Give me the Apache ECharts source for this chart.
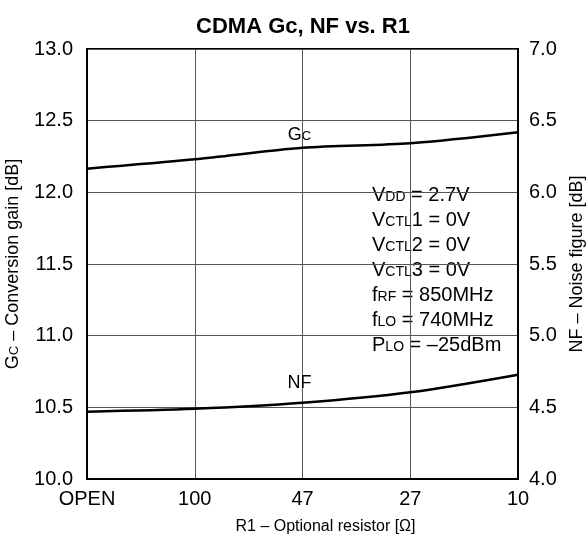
<!DOCTYPE html>
<html>
<head>
<meta charset="utf-8">
<script src="https://cdn.jsdelivr.net/npm/echarts@6/dist/echarts.min.js"></script>
<style>
  html, body { margin: 0; padding: 0; background: #fff; }
  #chart { width: 586px; height: 542px; }
</style>
</head>
<body>
<div id="chart"></div>
<script>
  // R1 settings along the x axis
  const resistors = ["OPEN", "100", "47", "27", "10"];
  // conversion gain [dB], left axis
  const gcValues = [12.165, 12.23, 12.311, 12.342, 12.419];
  // noise figure [dB], right axis
  const nfValues = [4.47, 4.49, 4.532, 4.605, 4.728];
  const gcTicks = [10.0, 10.5, 11.0, 11.5, 12.0, 12.5, 13.0];
  const nfTicks = [4.0, 4.5, 5.0, 5.5, 6.0, 6.5, 7.0];
  const conditions = [
    "{n|V}{s|DD}{n| = 2.7V}",
    "{n|V}{s|CTL}{n|1 = 0V}",
    "{n|V}{s|CTL}{n|2 = 0V}",
    "{n|V}{s|CTL}{n|3 = 0V}",
    "{n|f}{s|RF}{n| = 850MHz}",
    "{n|f}{s|LO}{n| = 740MHz}",
    "{n|P}{s|LO}{n| = \u201325dBm}",
  ];

  const font = "'Liberation Sans', Arial, Helvetica, sans-serif";
  const gridColor = "#555";

  const chart = echarts.init(document.getElementById("chart"));

  // small caps parts sit on the baseline of the normal text
  function richSub(size, lh, key) {
    const c = key || "color";
    const sub = Math.round(size * 0.7);
    return {
      n: { fontSize: size, fontFamily: font, [c]: "#000", lineHeight: lh },
      s: { fontSize: sub, fontFamily: font, [c]: "#000", verticalAlign: "bottom", lineHeight: lh, height: lh - 3 },
    };
  }

  chart.setOption({
    animation: false,
    backgroundColor: "#fff",
    title: {
      text: "CDMA Gc, NF vs. R1",
      left: 298,
      textAlign: "center",
      top: 11,
      textStyle: { fontFamily: font, fontSize: 22, fontWeight: "bold", color: "#000" },
    },
    grid: {
      left: 87,
      right: 68,
      top: 49,
      bottom: 63,
      show: true,
      borderColor: "#000",
      borderWidth: 2,
      backgroundColor: "transparent",
      outerBoundsMode: "none",
      containLabel: false,
    },
    xAxis: {
      type: "category",
      data: resistors,
      boundaryGap: false,
      name: "R1 \u2013 Optional resistor [\u03A9]",
      nameLocation: "middle",
      nameGap: 40,
      nameTextStyle: { fontFamily: font, fontSize: 16, color: "#000", padding: [0, 0, 0, 46] },
      axisLine: { lineStyle: { color: "#000", width: 2 } },
      axisTick: { show: false },
      axisLabel: { fontFamily: font, fontSize: 20, color: "#000", margin: 10 },
      splitLine: { show: true, lineStyle: { color: gridColor, width: 1 } },
    },
    yAxis: [
      {
        type: "value",
        min: gcTicks[0],
        max: gcTicks[gcTicks.length - 1],
        interval: 0.5,
        name: "{n|G}{s|C}{n| \u2013 Conversion gain [dB]}",
        nameLocation: "middle",
        nameGap: 62,
        nameTextStyle: { rich: richSub(18, 20) },
        axisLine: { show: true, lineStyle: { color: "#000", width: 2 } },
        axisTick: { show: false },
        axisLabel: {
          fontFamily: font, fontSize: 20, color: "#000", margin: 14,
          formatter: (v) => v.toFixed(1),
        },
        splitLine: { show: true, lineStyle: { color: gridColor, width: 1 } },
      },
      {
        type: "value",
        min: nfTicks[0],
        max: nfTicks[nfTicks.length - 1],
        interval: 0.5,
        position: "right",
        name: "NF \u2013 Noise figure [dB]",
        nameLocation: "middle",
        nameGap: 42,
        nameTextStyle: { fontFamily: font, fontSize: 18, color: "#000" },
        axisLine: { show: true, lineStyle: { color: "#000", width: 2 } },
        axisTick: { show: false },
        axisLabel: {
          fontFamily: font, fontSize: 20, color: "#000", margin: 11,
          formatter: (v) => v.toFixed(1),
        },
        splitLine: { show: false },
      },
    ],
    series: [
      {
        name: "Gc",
        type: "line",
        yAxisIndex: 0,
        data: gcValues,
        smooth: 0.3,
        showSymbol: false,
        lineStyle: { color: "#000", width: 2.5 },
        markPoint: {
          symbol: "circle",
          symbolSize: 1,
          itemStyle: { color: "rgba(0,0,0,0)" },
          label: {
            show: true,
            position: "inside",
            formatter: "{n|G}{s|C}",
            rich: richSub(18, 20),
            offset: [-3, -13],
          },
          data: [{ coord: [2, gcValues[2]] }],
        },
      },
      {
        name: "NF",
        type: "line",
        yAxisIndex: 1,
        data: nfValues,
        smooth: 0.3,
        showSymbol: false,
        lineStyle: { color: "#000", width: 2.5 },
        markPoint: {
          symbol: "circle",
          symbolSize: 1,
          itemStyle: { color: "rgba(0,0,0,0)" },
          label: {
            show: true,
            position: "inside",
            formatter: "NF",
            fontFamily: font,
            fontSize: 18,
            color: "#000",
            offset: [-3, -20],
          },
          data: [{ coord: [2, nfValues[2]] }],
        },
      },
    ],
    graphic: [
      {
        type: "group",
        left: 362,
        top: 174,
        children: [
          {
            type: "rect",
            shape: { x: 0, y: 0, width: 145, height: 184 },
            style: { fill: "#fff" },
          },
          {
            type: "text",
            x: 10,
            y: 9,
            style: {
              text: conditions.join("\n"),
              rich: richSub(20, 25, "fill"),
            },
          },
        ],
      },
    ],
  });
</script>
</body>
</html>
